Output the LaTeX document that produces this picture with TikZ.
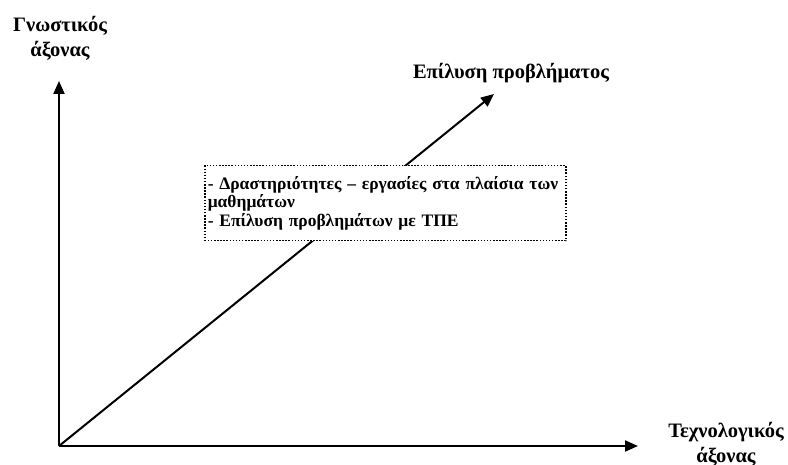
\documentclass[tikz,border=0pt]{standalone}
\usepackage{fontspec}
\setmainfont{Liberation Serif}
\usetikzlibrary{arrows.meta}
\begin{document}
\begin{tikzpicture}[x=1pt,y=-1pt,
  axis/.style={line width=2pt,-{Triangle[length=13pt,width=11pt]}},
  lbl/.style={font=\fontsize{20.5}{25}\selectfont\bfseries,align=center,inner sep=0pt},
  infobox/.style={draw,line width=1.5pt,dash pattern=on 1.5pt off 1.6pt,fill=white,
    minimum width=361pt,minimum height=75pt,inner xsep=3pt,inner ysep=0pt,
    text width=355pt,align=left,font=\fontsize{17.5}{18.8}\selectfont\bfseries}]
\useasboundingbox (0,0) rectangle (788,465);
\coordinate (o) at (59,446);
\coordinate (ytip) at (59,81);
\coordinate (xtip) at (638,446);
\coordinate (dtip) at (494,94);
\draw[axis] (o) -- (ytip);
\draw[axis] (o) -- (xtip);
\draw[axis] (o) -- (dtip);
\node[infobox,anchor=north west] (box) at (204,165) {- Δραστηριότητες – εργασίες στα πλαίσια των μαθημάτων\\- Επίλυση προβλημάτων με ΤΠΕ};
\node[lbl,anchor=base] (ylab) at (60,57) {Γνωστικός\\άξονας};
\node[lbl,anchor=base] (dlab) at (511,79) {Επίλυση προβλήματος};
\node[lbl,anchor=base] (xlab) at (726,462) {Τεχνολογικός\\άξονας};
\end{tikzpicture}
\end{document}
